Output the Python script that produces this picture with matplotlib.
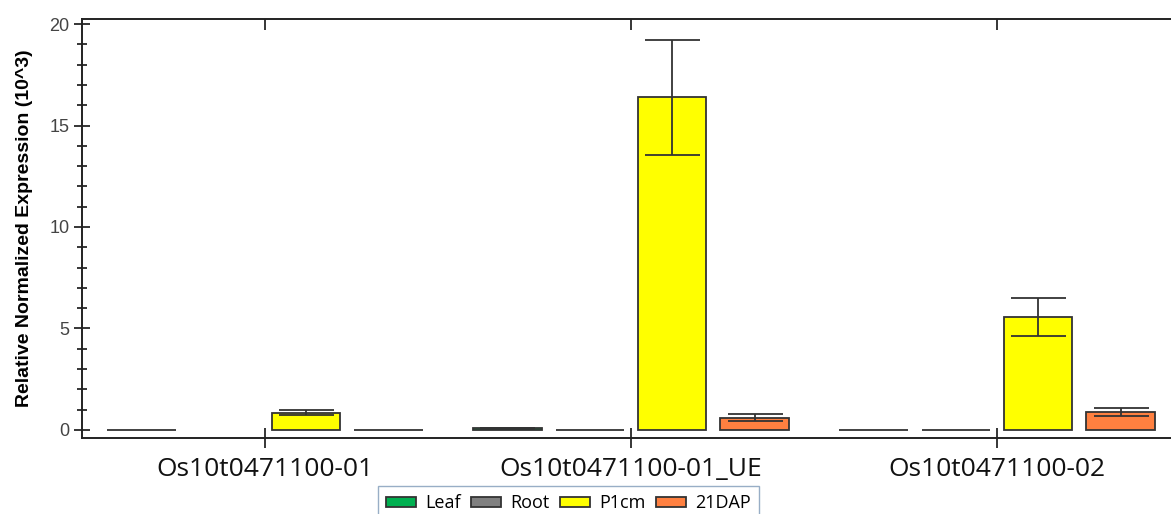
import numpy as np
import matplotlib
matplotlib.use("Agg")
import matplotlib.pyplot as plt

samples = ["Os10t0471100-01", "Os10t0471100-01_UE", "Os10t0471100-02"]
tissues = ["Leaf", "Root", "P1cm", "21DAP"]
colors = ["#00B050", "#808080", "#FFFF00", "#FF8040"]

# expression (10^3) per tissue, one entry per sample
leaf = [0.0, 0.07, 0.0]
root = [np.nan, 0.0, 0.0]
p1cm = [0.85, 16.4, 5.55]
dap21 = [0.0, 0.61, 0.88]

leaf_err = [0.0, 0.02, 0.0]
root_err = [np.nan, 0.0, 0.0]
p1cm_err = [0.14, 2.83, 0.93]
dap21_err = [0.0, 0.15, 0.18]

values = [leaf, root, p1cm, dap21]
errors = [leaf_err, root_err, p1cm_err, dap21_err]

W, H = 1171, 514
fig = plt.figure(figsize=(W / 100, H / 100), dpi=100)
ax = fig.add_axes([82 / W, (H - 438) / H, (1180 - 82) / W, (438 - 19) / H])

x = np.arange(len(samples))
step = 0.225
width = 0.186
offsets = (np.arange(len(tissues)) - 1.5) * step

handles = []
for vals, errs, col, name, off in zip(values, errors, colors, tissues, offsets):
    b = ax.bar(x + off, vals, width, color=col, edgecolor="#333333",
               linewidth=1.3, label=name, zorder=2)
    handles.append(b)
    errs = np.asarray(errs, dtype=float)
    vals = np.asarray(vals, dtype=float)
    show = np.nan_to_num(errs) > 0
    if show.any():
        ax.errorbar((x + off)[show], vals[show], yerr=errs[show], fmt="none",
                    ecolor="#333333", elinewidth=1.3, capsize=19.8,
                    capthick=1.3, zorder=3)

ax.set_xlim(-0.5, 2.5)
ax.set_ylim(-0.4, 20.25)
ax.set_xticks(x)
ax.set_xticklabels(samples, fontsize=19, family="Open Sans", color="#111111")
ax.set_yticks([0, 5, 10, 15, 20])
ax.set_yticks(np.arange(0, 21, 1), minor=True)
ax.tick_params(axis="y", which="major", direction="inout", length=12,
               width=1.1, labelsize=13, labelcolor="#444444", pad=3)
ax.tick_params(axis="y", which="minor", direction="inout", length=7, width=1.1)
ax.tick_params(axis="x", which="major", direction="inout", length=15,
               width=1.1, pad=6)
for lab in ax.get_yticklabels():
    lab.set_family("Liberation Sans")

top = ax.secondary_xaxis("top")
top.set_xticks(x)
top.set_xticklabels([])
top.tick_params(direction="in", length=8, width=1.1)
top.spines["top"].set_visible(False)

ax.set_ylabel("Relative Normalized Expression (10^3)", fontsize=14,
              fontweight="bold", family="Liberation Sans")
ax.yaxis.set_label_coords(-0.0446, 0.5)

for side in ["left", "bottom", "top"]:
    ax.spines[side].set_linewidth(1.4)
    ax.spines[side].set_color("#222222")
ax.spines["right"].set_visible(False)

leg = fig.legend(handles=handles, labels=tissues, loc="upper left",
                 bbox_to_anchor=(378 / W, 1 - 486 / H), ncol=4,
                 prop={"family": "Open Sans", "size": 13},
                 frameon=True, fancybox=False, handlelength=1.65,
                 handleheight=0.5, handletextpad=0.5, columnspacing=0.6,
                 borderpad=0.45, borderaxespad=0)
leg.get_frame().set_edgecolor("#7F9AB8")
leg.get_frame().set_linewidth(1.0)
for p in leg.get_patches():
    p.set_edgecolor("#333333")

fig.savefig("out.png", dpi=100)
